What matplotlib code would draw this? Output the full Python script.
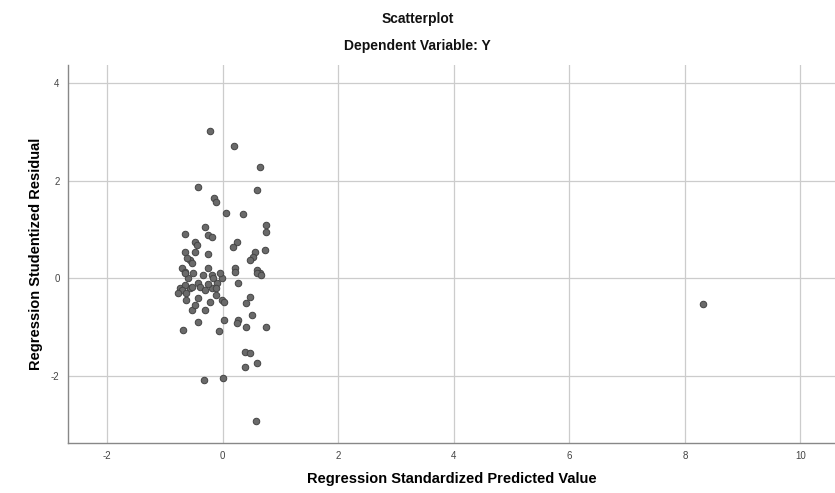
import matplotlib
matplotlib.use("Agg")
import matplotlib.pyplot as plt

plt.rcParams['font.family'] = ['Liberation Sans', 'DejaVu Sans']
plt.rcParams['axes.unicode_minus'] = False

# standardized predicted values (x) and studentized residuals (y)
pred = [-0.22, 0.19, 0.64, -0.43, 0.59, -0.16, -0.12, 0.05, 0.35, 0.74,
        0.74, -0.66, -0.31, -0.26, -0.19, -0.48, -0.45, -0.66, -0.48, -0.26,
        -0.57, 0.24, 0.17, 0.73, 0.55, 0.52, 0.47, 0.21, 0.59, 0.64,
        -0.62, -0.71, -0.26, -0.19, -0.60, -0.43, -0.74, -0.57, -0.19, -0.43,
        -0.22, -0.54, -0.02, -0.10, -0.02, -0.54, -0.35, -0.66, 0.26, 0.47,
        0.41, 0.03, 0.50, 0.03, 0.26, -0.43, -0.69, -0.07, 0.41, 0.74,
        0.24, 0.38, 0.48, 0.38, 0.60, -0.33, 0.00, 0.57, 8.31,
        -0.66, -0.71, -0.63, -0.54, -0.40, -0.25, -0.17, -0.11, -0.11, -0.66,
        -0.52, -0.05, 0.21, 0.59, 0.67, -0.78, -0.64, -0.31, -0.48, -0.31]
resid = [3.02, 2.71, 2.28, 1.87, 1.81, 1.64, 1.56, 1.33, 1.31, 1.09,
         0.94, 0.90, 1.05, 0.88, 0.84, 0.74, 0.68, 0.53, 0.53, 0.49,
         0.37, 0.74, 0.64, 0.57, 0.53, 0.43, 0.37, 0.21, 0.16, 0.10,
         0.41, 0.21, 0.21, 0.06, 0.00, -0.10, -0.21, -0.21, -0.21, -0.41,
         -0.49, -0.66, -0.45, -0.10, 0.00, 0.31, 0.06, 0.12, -0.10, -0.39,
         -0.51, -0.49, -0.76, -0.86, -0.86, -0.90, -1.07, -1.09, -1.00, -1.00,
         -0.92, -1.52, -1.54, -1.83, -1.74, -2.09, -2.05, -2.93, -0.53,
         -0.14, -0.25, -0.31, -0.18, -0.18, -0.11, 0.00, -0.21, -0.35, 0.10,
         0.10, 0.10, 0.13, 0.10, 0.06, -0.30, -0.45, -0.25, -0.55, -0.66]

xticks = [-2, 0, 2, 4, 6, 8, 10]
yticks = [-2, 0, 2, 4]

fig = plt.figure(figsize=(8.35, 4.93), dpi=100)
ax = fig.add_axes([0.0814, 0.1014, 0.9186, 0.7667])

ax.scatter(pred, resid, s=22, marker='o', facecolor='#6a6a6a',
           edgecolor='#444444', linewidths=0.7, zorder=3)

ax.set_xlim(-2.68, 10.6)
ax.set_ylim(-3.38, 4.37)
ax.set_xticks(xticks)
ax.set_yticks(yticks)
ax.grid(True, color='#cccccc', linewidth=0.9)
ax.set_axisbelow(True)
ax.tick_params(length=0, labelsize=7, colors='#444444', pad=6)

for side in ['top', 'right']:
    ax.spines[side].set_visible(False)
for side in ['left', 'bottom']:
    ax.spines[side].set_color('#888888')
    ax.spines[side].set_linewidth(1.0)

ax.set_xlabel("Regression Standardized Predicted Value", fontsize=10.5,
              fontweight='bold', labelpad=8)
ax.set_ylabel("Regression Studentized Residual", fontsize=10.5,
              fontweight='bold', labelpad=6)

fig.text(0.5, 0.962, "Scatterplot", ha='center', va='center',
         fontsize=10, fontweight='bold', color='#111111')
fig.text(0.5, 0.907, "Dependent Variable: Y", ha='center', va='center',
         fontsize=10, fontweight='bold', color='#111111')

fig.savefig("out.png", dpi=100)
